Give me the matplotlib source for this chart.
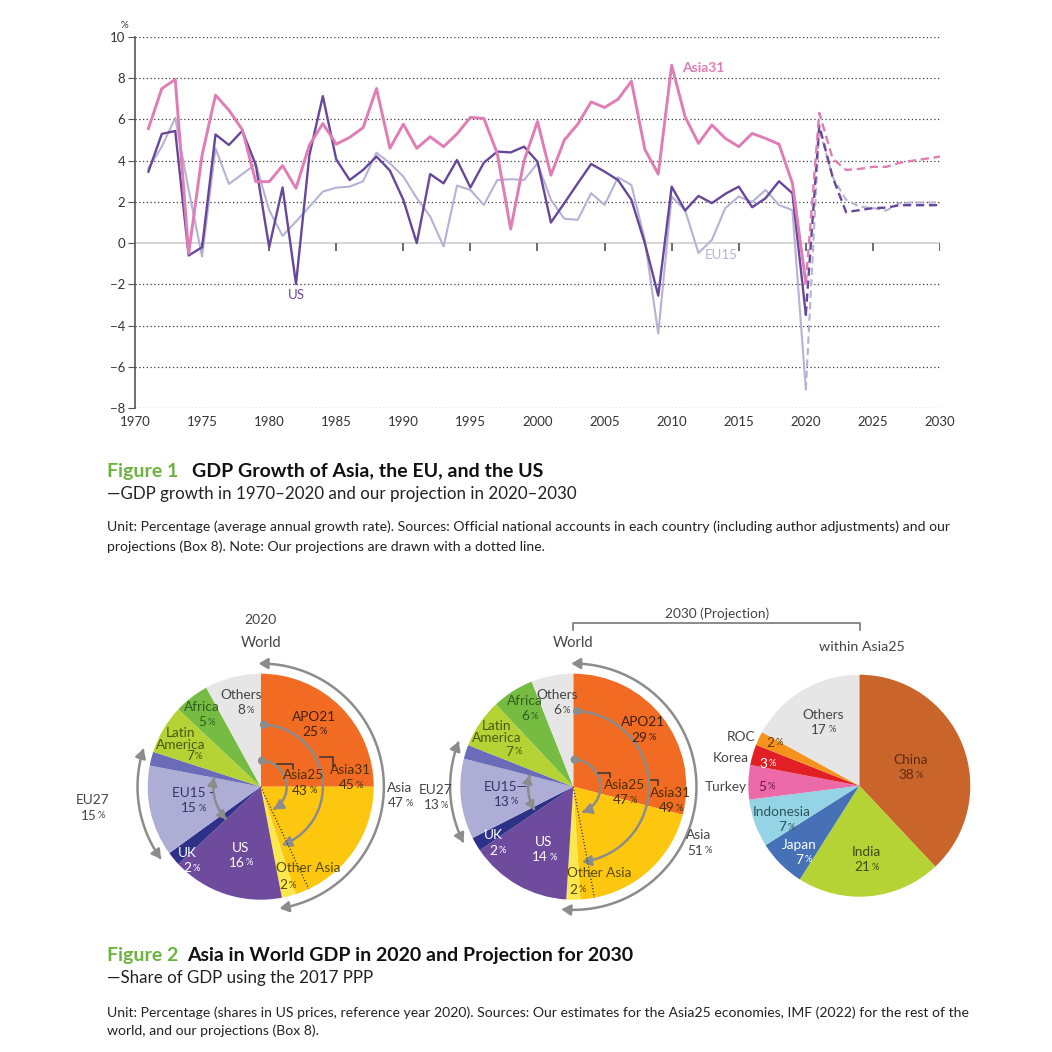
import numpy as np
import matplotlib
matplotlib.use("Agg")
import matplotlib.pyplot as plt
from matplotlib.patches import FancyArrowPatch, Circle
from matplotlib.path import Path

plt.rcParams['font.family'] = ['Lato', 'DejaVu Sans']

# ---- Figure 1 data: GDP growth, %
years = np.arange(1971, 2021)
asia31 = [5.56, 7.5, 7.94, -0.5, 4.27, 7.18, 6.45, 5.5, 2.98, 2.98,
          3.76, 2.66, 4.76, 5.8, 4.8, 5.13, 5.6, 7.5, 4.6, 5.77,
          4.6, 5.16, 4.68, 5.3, 6.1, 6.05, 4.35, 0.68, 4.0, 5.9,
          3.3, 5.0, 5.77, 6.85, 6.58, 6.98, 7.85, 4.55, 3.35, 8.63,
          6.13, 4.84, 5.73, 5.08, 4.68, 5.32, 5.08, 4.8, 2.9, -1.94]
us = [3.47, 5.3, 5.44, -0.6, -0.2, 5.27, 4.76, 5.45, 3.8, -0.2,
      2.7, -1.98, 4.27, 7.13, 4.06, 3.06, 3.55, 4.2, 3.52, 2.1,
      0.0, 3.35, 2.9, 4.03, 2.7, 3.9, 4.44, 4.4, 4.68, 3.95,
      1.0, 1.94, 2.9, 3.84, 3.47, 3.06, 2.1, 0.0, -2.55, 2.74,
      1.58, 2.29, 1.94, 2.39, 2.74, 1.74, 2.18, 3.0, 2.42, -3.47]
eu15 = [3.63, 4.68, 6.08, 2.58, -0.65, 4.6, 2.87, 3.35, 3.84, 1.6,
        0.35, 1.05, 1.77, 2.5, 2.69, 2.74, 3.0, 4.39, 3.87, 3.23,
        2.18, 1.29, -0.16, 2.79, 2.58, 1.85, 3.06, 3.1, 3.06, 3.87,
        2.1, 1.18, 1.13, 2.42, 1.85, 3.19, 2.82, 0.16, -4.39, 2.26,
        1.6, -0.48, 0.16, 1.7, 2.26, 2.0, 2.58, 1.85, 1.6, -7.1]
proj_years = np.arange(2020, 2031)
asia31_proj = [-1.94, 6.32, 4.1, 3.55, 3.6, 3.7, 3.7, 3.9, 4.0, 4.1, 4.2]
us_proj = [-3.47, 5.7, 3.2, 1.5, 1.6, 1.7, 1.72, 1.84, 1.84, 1.84, 1.84]
eu15_proj = [-7.1, 5.56, 3.2, 2.1, 1.77, 1.7, 1.58, 1.94, 1.97, 1.97, 1.97]

# ---- Figure 2 data: shares of world GDP, %
world_parts = ["APO21", "Asia25 other", "Asia31 other", "Other Asia", "US", "UK",
               "EU15 ex UK", "EU27 other", "Latin America", "Africa", "Others"]
share_2020 = [25, 18, 2, 2, 16, 2, 13, 2, 7, 5, 8]
share_2030 = [29, 18, 2, 2, 14.5, 2, 11.5, 2, 7, 6, 6]
world_colors = ['#f26b23', '#fdc70f', '#fdc70f', '#fbe84e', '#6f4b9e', '#2d3188',
                '#adadd6', '#6a6cb9', '#b6d335', '#76bc43', '#e6e6e6']
asia25_parts = ["China", "India", "Japan", "Indonesia", "Turkey", "Korea", "ROC", "Others"]
asia25_2030 = [38, 21, 7, 7, 5, 3, 2, 17]
asia25_colors = ['#c9652a', '#b6d335', '#4671b6', '#94d4e4', '#ec6aa8', '#e31f26',
                 '#f6931e', '#e6e6e6']

pink, purple, lav = '#e07db4', '#67479a', '#b5b2d6'
grey_arrow = '#8c8c8c'

fig = plt.figure(figsize=(10.52, 10.52), dpi=100)

# canvas in pixel coordinates for figure-level text
cv = fig.add_axes([0, 0, 1, 1])
cv.set_xlim(0, 1052)
cv.set_ylim(1052, 0)
cv.axis('off')

# ================= Figure 1: line chart
ax = fig.add_axes([135 / 1052, 1 - 408 / 1052, 805 / 1052, 371 / 1052])
for yv in range(-8, 11, 2):
    if yv != 0:
        ax.axhline(yv, color='#3a3a3a', lw=0.9, ls=(0, (1, 2)), zorder=0)
ax.axhline(0, color='#cfcfcf', lw=1.2, zorder=0)
ax.vlines(range(1975, 2031, 5), -0.4, 0, color='#555555', lw=1.2, zorder=1)

ax.plot(years, eu15, color=lav, lw=1.5, zorder=2)
ax.plot(years, us, color=purple, lw=1.7, zorder=3)
ax.plot(years, asia31, color=pink, lw=2.1, zorder=4)
ax.plot(proj_years, eu15_proj, color=lav, lw=1.5, ls=(0, (3.5, 2)), zorder=2)
ax.plot(proj_years, us_proj, color=purple, lw=1.7, ls=(0, (3.5, 2)), zorder=3)
ax.plot(proj_years, asia31_proj, color=pink, lw=1.7, ls=(0, (3.5, 2)), zorder=4)

ax.text(2010.8, 8.5, "Asia31", color=pink, fontsize=10, fontweight='bold', va='center')
ax.text(1982.0, -2.5, "US", color=purple, fontsize=9.5, ha='center', va='center')
ax.text(2013.7, -0.6, "EU15", color=lav, fontsize=9.5, ha='center', va='center')

ax.set_xlim(1970, 2030)
ax.set_ylim(-8, 10)
ax.set_yticks(range(-8, 11, 2))
ax.set_xticks(range(1970, 2031, 5))
for s in ['top', 'right', 'bottom']:
    ax.spines[s].set_visible(False)
ax.spines['left'].set_color('#555555')
ax.spines['left'].set_linewidth(1.2)
ax.tick_params(axis='y', direction='out', length=5, color='#555555', labelsize=9.5,
               labelcolor='#333333', pad=2)
ax.tick_params(axis='x', length=0, labelsize=9.5, labelcolor='#333333', pad=6)
ax.text(124, 25, "%", fontsize=7, color='#333333', ha='center', va='center',
        transform=cv.transData)

# ================= titles and notes
def title(y, num, txt, x2):
    cv.text(107, y, num, color='#6cb33f', fontsize=14, fontweight='bold', va='center')
    cv.text(x2, y, txt, color='#111111', fontsize=14, fontweight='bold', va='center')

title(471, "Figure 1", "GDP Growth of Asia, the EU, and the US", 192)
cv.text(107, 494, "\u2014GDP growth in 1970\u20132020 and our projection in 2020\u20132030",
        fontsize=12.2, va='center', color='#222222')
cv.text(107, 527, "Unit: Percentage (average annual growth rate). Sources: Official national "
        "accounts in each country (including author adjustments) and our",
        fontsize=10.1, va='center', color='#222222')
cv.text(107, 547, "projections (Box 8). Note: Our projections are drawn with a dotted line.",
        fontsize=10.1, va='center', color='#222222')

title(956, "Figure 2", "Asia in World GDP in 2020 and Projection for 2030", 187)
cv.text(107, 978, "\u2014Share of GDP using the 2017 PPP",
        fontsize=12.2, va='center', color='#222222')
cv.text(107, 1013, "Unit: Percentage (shares in US prices, reference year 2020). Sources: Our "
        "estimates for the Asia25 economies, IMF (2022) for the rest of the",
        fontsize=10.1, va='center', color='#222222')
cv.text(107, 1031, "world, and our projections (Box 8).",
        fontsize=10.1, va='center', color='#222222')

# 2030 bracket
cv.plot([573, 573, 860, 860], [630, 623, 623, 630], color='#777777', lw=1.2)
cv.text(717, 614, "2030 (Projection)", fontsize=9.8, color='#444444', ha='center', va='center')


# ================= Figure 2: pies
def pie_axes(cx, cy, r):
    half = 1.6 * r
    a = fig.add_axes([(cx - half) / 1052, 1 - (cy + half) / 1052, 2 * half / 1052, 2 * half / 1052])
    return a


def fix_limits(a):
    a.set_xlim(-1.6, 1.6)
    a.set_ylim(-1.6, 1.6)
    a.set_aspect('equal')
    a.axis('off')


def lab(a, x, y, name, val, color='#333333', size=9.8):
    if name:
        a.text(x, y, name, color=color, fontsize=size, ha='center', va='center', linespacing=1.0)
    if val is not None:
        yy = y - 0.135 if name else y
        a.annotate(str(val), (x, yy), xytext=(3, 0), textcoords='offset points',
                   ha='right', va='center', color=color, fontsize=size)
        a.annotate("%", (x, yy), xytext=(4, 0), textcoords='offset points',
                   ha='left', va='center', color=color, fontsize=size * 0.68)


def arc(a, r, a0, a1, style, dot=False):
    t = np.radians(np.linspace(a0, a1, 80))
    pts = np.column_stack([r * np.sin(t), r * np.cos(t)])
    p = FancyArrowPatch(path=Path(pts), arrowstyle=style, mutation_scale=9,
                        color=grey_arrow, lw=1.8, shrinkA=0, shrinkB=0)
    a.add_patch(p)
    if dot:
        a.add_patch(Circle(pts[0], 0.03, color=grey_arrow))


def bracket(a, x0, x1, y0, y1):
    a.plot([x0, x1, x1], [y0, y0, y1], color='#333333', lw=1.1)


def world_pie(a, shares):
    a.pie(shares, colors=world_colors, startangle=90, counterclock=False,
          wedgeprops=dict(linewidth=0))
    fix_limits(a)
    cum = np.cumsum(shares) * 3.6
    ang = np.radians(cum[1])
    a.plot([0, np.sin(ang)], [0, np.cos(ang)], color='#333333', lw=0.9, ls=(0, (1, 1.5)))
    arc(a, 1.09, -1, cum[3] + 2, '<|-|>,head_length=0.6,head_width=0.35')
    arc(a, 1.09, cum[5], cum[7], '<|-|>,head_length=0.6,head_width=0.35')
    return cum


# ---- 2020
a1 = pie_axes(260.7, 786.7, 113)
c = world_pie(a1, share_2020)
arc(a1, 0.55, 3, c[2] - 2, '-|>,head_length=0.6,head_width=0.35', dot=True)
arc(a1, 0.23, 3, c[1] - 5, '-|>,head_length=0.6,head_width=0.35', dot=True)
arc(a1, 0.42, c[4], c[6], '<|-|>,head_length=0.5,head_width=0.3')
bracket(a1, 0.14, 0.29, 0.20, 0.16)
bracket(a1, 0.525, 0.64, 0.266, 0.177)
a1.text(0, 1.475, "2020", fontsize=10, color='#444444', ha='center', va='center')
a1.text(0, 1.27, "World", fontsize=10.5, color='#444444', ha='center', va='center')
lab(a1, -0.17, 0.81, "Others", 8, '#444444')
lab(a1, -0.52, 0.705, "Africa", 5, '#2f5e1c')
lab(a1, -0.71, 0.42, "Latin\nAmerica", None, '#4a5a12')
lab(a1, -0.63, 0.27, None, 7, '#4a5a12')
lab(a1, 0.47, 0.62, "APO21", 25, '#3a2010')
lab(a1, 0.38, 0.10, "Asia25", 43, '#4a3000')
lab(a1, 0.79, 0.15, "Asia31", 45, '#4a3000')
lab(a1, 1.23, -0.01, "Asia", 47, '#444444')
lab(a1, -1.49, -0.12, "EU27", 15, '#444444')
lab(a1, -0.60, -0.055, "EU15 -", 15, '#34346a')
lab(a1, -0.65, -0.585, "UK", 2, 'white')
lab(a1, -0.18, -0.54, "US", 16, 'white')
lab(a1, 0.42, -0.72, "Other Asia", None, '#5a4a00')
lab(a1, 0.20, -0.87, None, 2, '#5a4a00')

# ---- 2030
a2 = pie_axes(573.3, 786.7, 113)
c = world_pie(a2, share_2030)
arc(a2, 0.67, 3, c[2] - 3, '-|>,head_length=0.6,head_width=0.35', dot=True)
arc(a2, 0.24, 3, c[1] - 9, '-|>,head_length=0.6,head_width=0.35', dot=True)
arc(a2, 0.40, c[4] + 4, c[6], '<|-|>,head_length=0.5,head_width=0.3')
bracket(a2, 0.22, 0.325, 0.124, 0.088)
bracket(a2, 0.69, 0.75, 0.06, 0.015)
a2.text(0, 1.27, "World", fontsize=10.5, color='#444444', ha='center', va='center')
lab(a2, -0.14, 0.81, "Others", 6, '#444444')
lab(a2, -0.43, 0.76, "Africa", 6, '#2f5e1c')
lab(a2, -0.68, 0.48, "Latin\nAmerica", None, '#4a5a12')
lab(a2, -0.57, 0.31, None, 7, '#4a5a12')
lab(a2, 0.62, 0.57, "APO21", 29, '#3a2010')
lab(a2, 0.45, 0.015, "Asia25", 47, '#4a3000')
lab(a2, 0.86, -0.055, "Asia31", 49, '#4a3000')
lab(a2, 1.11, -0.43, "Asia", 51, '#444444')
lab(a2, -1.22, -0.03, "EU27", 13, '#444444')
lab(a2, -0.60, 0.0, "EU15\u2014", 13, '#34346a')
lab(a2, -0.71, -0.43, "UK", 2, 'white')
lab(a2, -0.26, -0.49, "US", 14, 'white')
lab(a2, 0.23, -0.76, "Other Asia", None, '#5a4a00')
lab(a2, 0.0, -0.91, None, 2, '#5a4a00')

# ---- within Asia25, 2030
a3 = pie_axes(859.3, 785.7, 111)
a3.pie(asia25_2030, colors=asia25_colors, startangle=90, counterclock=False,
       wedgeprops=dict(linewidth=0))
fix_limits(a3)
a3.text(0.02, 1.25, "within Asia25", fontsize=10.3, color='#444444', ha='center', va='center')
lab(a3, 0.46, 0.23, "China", 38, '#5a2a10')
lab(a3, 0.06, -0.60, "India", 21, '#3f4a10')
lab(a3, -0.54, -0.53, "Japan", 7, 'white')
lab(a3, -0.70, -0.24, "Indonesia", 7, '#2c5560')
lab(a3, -0.33, 0.64, "Others", 17, '#444444')
a3.text(-1.01, -0.01, "Turkey", fontsize=9.8, color='#444444', ha='right', va='center')
lab(a3, -0.88, -0.01, None, 5, '#6a1a40')
a3.text(-1.0, 0.25, "Korea", fontsize=9.8, color='#444444', ha='right', va='center')
lab(a3, -0.87, 0.20, None, 3, 'white')
a3.text(-0.94, 0.44, "ROC", fontsize=9.8, color='#444444', ha='right', va='center')
lab(a3, -0.80, 0.385, None, 2, '#6a3a00')

fig.savefig("out.png", dpi=100)
